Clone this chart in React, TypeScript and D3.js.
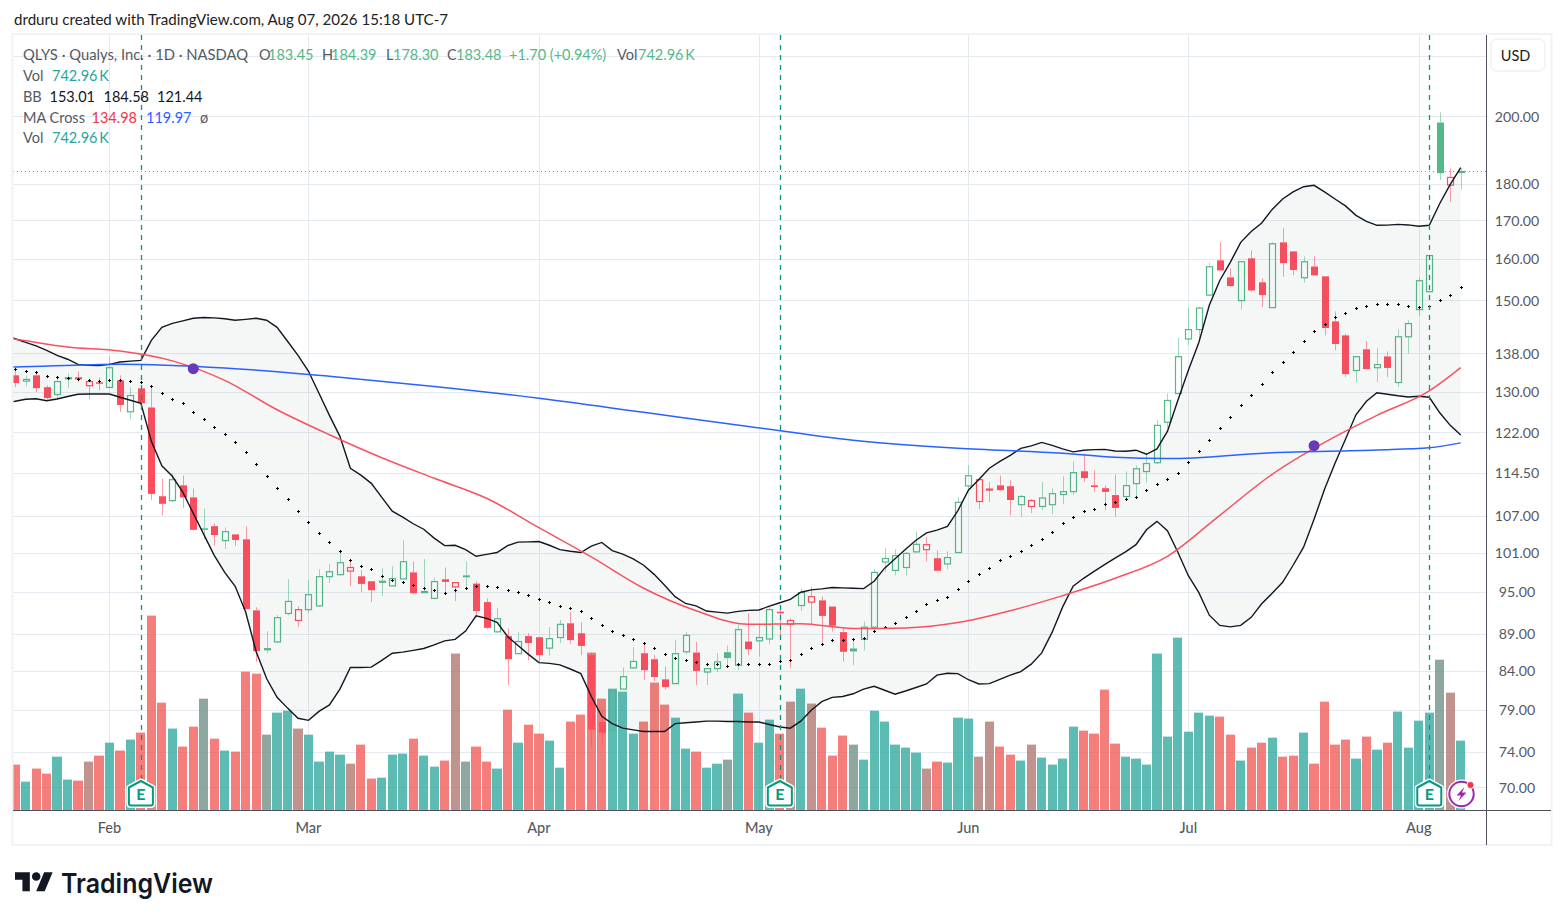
import * as d3 from 'd3';

// QLYS daily candles, one entry per trading day
const opens = [
  133.35, 132.15, 133.35, 130.9, 129.4, 132.7, 132.95, 131.2, 131.9, 130.85,
  132.3, 125.95, 130.65, 126.8, 110.35, 109.6, 112.25, 110.15, 104.95, 105.3,
  102.95, 103.95, 103.15, 92.3, 87.0, 87.85, 91.85, 90.85, 92.4, 92.95,
  97.3, 97.6, 98.15, 97.35, 96.6, 96.5, 95.9, 96.95, 97.95, 95.0,
  94.05, 96.9, 95.75, 97.5, 96.25, 93.5, 89.25, 88.65, 86.25, 88.65,
  88.5, 87.0, 88.45, 90.45, 89.05, 86.05, 77.5, 76.5, 81.6, 84.35,
  86.3, 85.5, 82.85, 82.3, 86.5, 86.4, 83.8, 84.25, 86.45, 84.7,
  87.9, 88.0, 88.25, 92.1, 90.3, 93.0, 93.5, 93.75, 92.85, 89.2,
  86.95, 88.2, 89.9, 99.55, 98.25, 98.7, 101.15, 101.5, 100.15, 99.25,
  101.05, 112.15, 109.45, 111.5, 112.25, 112.1, 108.9, 108.6, 108.6, 108.9,
  110.65, 111.15, 114.75, 112.25, 111.75, 110.55, 110.3, 112.55, 114.7, 116.3,
  123.9, 129.6, 141.15, 143.25, 151.2, 159.65, 155.45, 149.9, 160.15, 154.25,
  148.25, 164.2, 161.9, 155.35, 158.1, 155.7, 145.1, 141.95, 134.35, 138.9,
  134.95, 137.35, 131.85, 141.65, 147.8, 152.0, 198.1, 179.6, 183.45,
];
const highs = [
  134.8, 133.35, 134.05, 131.3, 133.0, 133.7, 134.2, 132.65, 132.9, 137.35,
  133.35, 130.85, 130.95, 131.25, 113.45, 114.35, 114.0, 111.7, 108.25, 105.75,
  105.1, 103.95, 105.3, 92.75, 89.35, 91.6, 96.9, 92.85, 96.75, 98.45,
  99.2, 101.5, 99.85, 98.3, 96.6, 98.6, 98.9, 103.0, 99.65, 100.0,
  97.15, 98.7, 96.45, 99.65, 96.6, 94.05, 92.6, 89.7, 89.2, 89.05,
  88.5, 89.9, 90.9, 92.05, 90.6, 86.4, 79.2, 81.45, 84.4, 87.1,
  87.5, 86.05, 84.55, 88.1, 89.2, 87.85, 84.3, 86.35, 87.35, 90.3,
  91.9, 90.2, 92.85, 92.85, 91.15, 95.5, 95.75, 94.3, 92.85, 89.9,
  88.3, 90.7, 98.45, 101.75, 101.55, 101.15, 104.45, 103.55, 101.4, 101.25,
  110.15, 115.85, 113.3, 112.85, 114.0, 113.15, 110.55, 109.85, 112.85, 111.7,
  113.85, 116.55, 117.95, 114.95, 112.25, 114.2, 114.75, 115.8, 118.25, 124.3,
  129.65, 141.45, 148.25, 148.5, 159.05, 164.25, 157.65, 159.4, 162.15, 155.2,
  164.2, 167.9, 161.9, 160.65, 160.65, 155.7, 147.4, 142.35, 137.35, 140.65,
  139.1, 138.45, 143.3, 145.35, 155.5, 160.9, 201.25, 184.35, 184.39,
];
const lows = [
  130.9, 131.05, 129.9, 128.4, 128.6, 130.7, 131.95, 128.45, 130.25, 130.6,
  125.9, 124.5, 126.6, 109.7, 107.1, 109.35, 108.35, 104.6, 103.15, 102.1,
  101.6, 102.1, 92.4, 85.1, 86.3, 87.7, 91.6, 89.95, 91.9, 92.8,
  96.35, 97.5, 95.85, 95.0, 93.5, 94.4, 95.9, 96.95, 94.65, 94.8,
  93.9, 94.75, 93.65, 95.35, 91.25, 89.6, 89.1, 82.1, 86.15, 85.35,
  85.15, 86.0, 87.7, 87.55, 86.05, 74.5, 74.7, 76.4, 81.6, 84.2,
  82.75, 82.6, 81.55, 82.3, 86.15, 82.1, 82.1, 83.8, 84.7, 84.05,
  86.05, 85.9, 87.55, 88.1, 84.35, 92.2, 90.4, 87.6, 89.3, 85.2,
  84.7, 86.7, 89.15, 98.05, 97.5, 97.5, 101.05, 99.65, 98.15, 98.45,
  101.0, 111.1, 108.15, 109.35, 111.3, 107.1, 106.85, 107.5, 107.95, 107.3,
  109.0, 110.6, 112.85, 111.1, 107.95, 106.85, 109.8, 110.2, 112.7, 116.0,
  122.75, 129.5, 139.75, 140.85, 151.05, 157.15, 153.25, 147.85, 151.95, 148.4,
  148.25, 155.6, 155.95, 154.1, 155.75, 141.95, 138.65, 133.0, 131.9, 134.65,
  131.9, 133.0, 130.95, 137.95, 146.3, 151.85, 181.1, 174.9, 178.3,
];
const closes = [
  131.75, 132.5, 130.7, 128.7, 132.05, 132.85, 132.5, 132.05, 131.75, 134.95,
  127.3, 129.2, 127.65, 110.75, 109.05, 113.25, 110.15, 104.7, 104.85, 103.85,
  104.4, 103.05, 92.5, 86.6, 86.7, 91.25, 93.6, 92.4, 94.6, 97.3,
  98.05, 99.45, 98.7, 96.2, 95.25, 96.6, 97.0, 99.6, 94.8, 95.05,
  96.55, 96.5, 96.4, 97.2, 92.2, 89.8, 91.1, 85.5, 87.9, 87.7,
  86.05, 88.3, 90.3, 88.1, 87.3, 76.6, 76.2, 81.45, 83.2, 85.2,
  84.05, 83.15, 81.85, 86.25, 88.75, 83.95, 84.25, 85.15, 85.65, 89.55,
  86.85, 88.45, 92.4, 92.0, 90.85, 94.9, 94.3, 91.5, 90.1, 86.5,
  86.55, 89.9, 97.95, 100.1, 100.55, 100.9, 102.35, 102.3, 98.2, 100.25,
  109.3, 113.95, 113.25, 111.6, 111.4, 109.7, 110.3, 109.6, 110.05, 110.8,
  111.15, 114.5, 113.55, 111.95, 111.1, 108.35, 112.2, 115.2, 116.15, 123.3,
  128.2, 137.3, 143.25, 148.15, 158.05, 157.15, 153.35, 159.3, 152.3, 151.2,
  163.85, 158.95, 157.25, 159.3, 155.95, 143.6, 140.05, 133.6, 137.3, 134.65,
  135.6, 134.9, 141.65, 144.6, 154.65, 160.85, 183.0, 181.78, 183.48,
];
const closeBeforeChart = 133.6;

// volume in thousands of shares
const volumes = [
  486, 303, 443, 389, 571, 325, 314, 518, 582, 721,
  636, 754, 829, 2083, 1150, 872, 679, 893, 1193, 764,
  636, 625, 1483, 1461, 807, 1043, 1064, 872, 807, 518,
  625, 593, 496, 700, 336, 346, 593, 604, 764, 582,
  464, 529, 1676, 518, 679, 518, 443, 1075, 721, 914,
  818, 743, 453, 947, 1022, 1686, 1193, 1300, 1268, 818,
  947, 1365, 1129, 989, 657, 625, 453, 496, 539, 1247,
  1043, 721, 968, 818, 1161, 1300, 1140, 882, 582, 797,
  700, 539, 1064, 947, 700, 668, 614, 443, 518, 507,
  989, 979, 571, 947, 679, 593, 529, 700, 561, 486,
  550, 893, 850, 818, 1290, 711, 571, 550, 486, 1676,
  786, 1847, 839, 1043, 1011, 1000, 807, 529, 668, 721,
  775, 571, 582, 829, 496, 1161, 700, 754, 550, 786,
  646, 721, 1054, 668, 957, 1043, 1611, 1257, 742.96,
];

const bbBasis = [
  134.75, 134.35, 133.95, 133.3, 132.95, 132.75, 132.6, 132.3, 132.15, 132.45,
  132.3, 132.15, 132.05, 131.05, 129.8, 128.5, 127.6, 126.0, 124.6, 123.05,
  121.65, 120.2, 118.35, 116.15, 113.95, 111.85, 109.95, 107.9, 106.05, 104.25,
  102.8, 101.25, 99.85, 98.95, 98.4, 97.45, 96.8, 96.55, 96.0, 95.65,
  95.35, 94.85, 95.25, 95.6, 95.85, 95.95, 95.75, 95.35, 95.05, 94.6,
  94.0, 93.45, 93.0, 92.7, 92.25, 91.25, 90.25, 89.3, 88.75, 88.2,
  87.65, 86.95, 86.25, 85.6, 85.45, 85.1, 84.8, 84.8, 84.65, 84.85,
  84.8, 84.8, 84.9, 85.2, 85.35, 86.25, 87.05, 87.6, 88.05, 88.15,
  88.2, 88.45, 89.3, 89.95, 90.55, 91.4, 92.25, 93.15, 93.85, 94.3,
  95.5, 96.7, 97.75, 98.7, 99.8, 100.55, 101.35, 102.3, 103.25, 104.4,
  105.75, 106.9, 107.75, 108.25, 108.95, 109.35, 109.8, 110.3, 111.35, 112.4,
  113.45, 114.5, 116.5, 118.5, 120.6, 122.7, 124.85, 127.2, 129.4, 131.45,
  133.95, 136.25, 138.4, 140.8, 143.0, 144.6, 146.1, 147.1, 148.25, 148.75,
  149.2, 149.0, 149.0, 148.75, 148.5, 148.75, 150.1, 151.3, 153.01,
];
const bbUpper = [
  141.2, 140.4, 139.65, 138.67, 137.6, 136.75, 135.65, 135.45, 135.4, 135.65,
  136.15, 136.35, 136.5, 140.85, 143.75, 144.65, 145.2, 145.8, 146.0, 145.9,
  145.7, 145.35, 145.55, 145.8, 145.35, 143.75, 140.65, 137.6, 134.2, 129.65,
  125.25, 121.2, 115.3, 114.05, 112.6, 110.15, 107.8, 106.8, 105.7, 104.8,
  103.35, 102.15, 102.2, 101.5, 100.45, 100.75, 101.05, 102.15, 102.7, 102.75,
  102.8, 102.2, 101.5, 101.25, 101.05, 102.05, 102.65, 101.35, 100.8, 100.05,
  99.05, 97.65, 96.0, 94.3, 93.3, 92.95, 92.2, 92.05, 91.9, 92.15,
  92.3, 92.35, 92.9, 93.4, 93.9, 94.95, 95.3, 95.45, 95.65, 95.6,
  95.55, 95.5, 96.6, 98.6, 100.05, 101.55, 103.0, 104.2, 104.65, 105.25,
  107.9, 111.4, 113.3, 115.3, 116.55, 117.65, 118.95, 119.4, 120.05, 119.5,
  118.85, 118.3, 118.6, 118.7, 118.75, 118.45, 118.4, 118.6, 117.85, 118.85,
  122.15, 128.25, 134.4, 140.4, 148.8, 154.7, 159.15, 164.2, 167.05, 169.25,
  172.9, 175.75, 177.7, 179.15, 179.55, 177.7, 175.75, 173.85, 171.3, 169.7,
  168.65, 168.7, 168.9, 168.75, 168.4, 168.65, 174.5, 179.8, 184.58,
];
const bbLower = [
  128.05, 128.45, 128.55, 128.15, 128.5, 129.0, 129.45, 129.5, 129.5, 129.5,
  128.85, 128.25, 127.65, 120.25, 115.75, 113.85, 111.05, 107.45, 103.95, 100.6,
  97.95, 95.85, 92.05, 86.55, 82.95, 80.55, 79.2, 77.95, 77.7, 78.8,
  79.6, 81.6, 84.4, 84.4, 84.45, 85.35, 86.3, 86.45, 86.7, 86.95,
  87.45, 88.0, 88.2, 89.35, 91.5, 91.15, 90.6, 88.6, 87.35, 86.15,
  85.05, 84.95, 84.75, 84.2, 83.6, 80.65, 78.2, 77.3, 76.75, 76.55,
  76.35, 76.35, 76.35, 77.3, 77.4, 77.5, 77.6, 77.6, 77.55, 77.55,
  77.5, 77.5, 77.2, 76.9, 76.75, 77.6, 78.95, 80.0, 80.55, 80.65,
  81.0, 81.6, 81.95, 81.45, 80.95, 81.35, 81.8, 82.25, 83.4, 83.65,
  83.6, 82.8, 82.25, 82.3, 82.85, 83.4, 83.85, 84.85, 86.35, 89.2,
  92.8, 95.85, 97.05, 98.1, 99.15, 100.15, 101.15, 102.3, 104.7, 106.1,
  104.55, 101.1, 97.45, 94.9, 91.6, 90.15, 89.95, 90.15, 91.3, 93.25,
  94.8, 96.45, 99.05, 101.9, 106.45, 111.55, 116.2, 120.65, 125.35, 128.05,
  129.75, 129.45, 129.15, 128.9, 129.05, 128.85, 125.75, 123.3, 121.44,
];
// the bands and averages run on past the left edge, bar -1 is just off the pane
const bbUpperOffChart = 142.2;
const bbLowerOffChart = 127.7;

// moving averages are smooth, so they were read at these bars only
const ma50Bars = [-1, 0, 5, 10, 15, 20, 25, 30, 35, 40, 45, 50, 55, 60, 65, 70, 75, 80, 85, 90, 95, 100, 105, 110, 115, 120, 125, 130, 135, 138];
const ma50 = [141.4, 141.1, 139.4, 138.5, 136.4, 132.3, 126.35, 121.5, 117.2, 113.5, 110.0, 105.05, 100.35, 95.55, 92.25, 90.3, 90.4, 89.7, 89.8, 90.55, 92.25, 94.45, 97.05, 100.45, 107.1, 114.2, 120.05, 125.25, 130.15, 134.98];
const ma200Bars = [-1, 0, 10, 20, 30, 40, 50, 60, 70, 80, 90, 100, 105, 110, 120, 130, 135, 138];
const ma200 = [135.05, 135.1, 135.7, 134.9, 133.15, 131.05, 128.65, 125.85, 123.1, 120.45, 118.95, 118.05, 117.3, 117.05, 118.15, 118.65, 119.05, 119.97];

const crossBars = [17, 124];
const crossPrices = [134.75, 119.45];
const earningsBars = [12, 73, 135];

const monthBars = [9, 28, 50, 71, 91, 112, 134];
const monthLabels = ['Feb', 'Mar', 'Apr', 'May', 'Jun', 'Jul', 'Aug'];
const priceTicks = [200, 180, 170, 160, 150, 138, 130, 122, 114.5, 107, 101, 95, 89, 84, 79, 74, 70];
const hiddenPriceTick = 220;

const WIDTH = 1564;
const HEIGHT = 920;
const FONT = 'Lato, "Open Sans", sans-serif';
const GREEN = '#53b989';
const RED = '#ff4d5e';
const TEAL = '#26a69a';
const VOL_RED = '#ef5350';
const GRID = '#e4eaf0';
const TEXT = '#555a62';

const pane = { left: 13, right: 1486, top: 35, bottom: 810, outerRight: 1551, outerBottom: 845 };

const x = d3.scaleLinear().domain([0, closes.length - 1]).range([15.2, 1460.7]);
const y = d3.scaleLog().domain([70, 200]).range([787, 116.4]);
const yVol = d3.scaleLinear().domain([0, d3.max(volumes) ?? 1]).range([810, 615.7]);

function prevClose(i: number) {
  return i === 0 ? closeBeforeChart : closes[i - 1];
}

function Candle({ i }: { i: number }) {
  const color = closes[i] >= prevClose(i) ? GREEN : RED;
  const hollow = closes[i] > opens[i];
  const cx = Math.round(x(i)) + 0.5;
  const top = y(Math.max(opens[i], closes[i]));
  const bottom = y(Math.min(opens[i], closes[i]));
  return (
    <g>
      <line x1={cx} x2={cx} y1={y(highs[i])} y2={top} stroke={color} strokeOpacity={0.55} />
      <line x1={cx} x2={cx} y1={bottom} y2={y(lows[i])} stroke={color} strokeOpacity={0.55} />
      {hollow ? (
        <rect x={cx - 3} y={top} width={6} height={Math.max(bottom - top, 1)} fill='none' stroke={color} strokeWidth={1.2} />
      ) : (
        <rect x={cx - 3.5} y={top} width={7} height={Math.max(bottom - top, 1.5)} fill={color} />
      )}
    </g>
  );
}

function EarningsMark({ i }: { i: number }) {
  const cx = x(i);
  const shape = 'M0,6.5 L12,0 L24,6.5 V22.5 Q24,24.5 22,24.5 H2 Q0,24.5 0,22.5 Z';
  return (
    <g transform={`translate(${cx - 12},781)`}>
      <path d={shape} fill='#fff' stroke='#fff' strokeWidth={5} strokeLinejoin='round' />
      <path d={shape} fill='#fff' stroke='#089981' strokeWidth={2} strokeLinejoin='round' />
      <text x={12} y={18.5} textAnchor='middle' fontSize={16} fontWeight={700} fontFamily={FONT} fill='#089981'>
        E
      </text>
    </g>
  );
}

const linePath = d3
  .line<[number, number]>()
  .x((d) => x(d[0]))
  .y((d) => y(d[1]));

const smoothPath = d3
  .line<[number, number]>()
  .x((d) => x(d[0]))
  .y((d) => y(d[1]))
  .curve(d3.curveMonotoneX);

export default function App() {
  const bars = d3.range(closes.length);
  const bandBars = [-1, ...bars];
  const upper = [bbUpperOffChart, ...bbUpper];
  const lower = [bbLowerOffChart, ...bbLower];

  const bandArea = d3
    .area<number>()
    .x((b) => x(b))
    .y0((_, k) => y(lower[k]))
    .y1((_, k) => y(upper[k]));

  const legend = (txt: string, px: number, py: number, fill: string, len?: number) => (
    <text x={px} y={py} fontSize={14.5} fill={fill} fontFamily={FONT} dominantBaseline='central' textLength={len} lengthAdjust='spacingAndGlyphs'>
      {txt}
    </text>
  );

  const lastY = Math.round(y(closes[closes.length - 1])) + 0.5;

  return (
    <svg
      width={WIDTH}
      height={HEIGHT}
      viewBox={`0 0 ${WIDTH} ${HEIGHT}`}
      style={{ position: 'absolute', left: 0, top: 0, background: '#fff' }}
    >
      <defs>
        <clipPath id='pane'>
          <rect x={pane.left} y={pane.top} width={pane.right - pane.left} height={pane.bottom - pane.top} />
        </clipPath>
      </defs>

      <text x={14} y={19} fontSize={15} fill='#222' fontFamily={FONT} dominantBaseline='central' textLength={434} lengthAdjust='spacingAndGlyphs'>
        drduru created with TradingView.com, Aug 07, 2026 15:18 UTC-7
      </text>

      {/* Grid */}
      {[...priceTicks, hiddenPriceTick].map((t) => (
        <line key={t} x1={pane.left} x2={pane.right} y1={Math.round(y(t)) + 0.5} y2={Math.round(y(t)) + 0.5} stroke={GRID} />
      ))}
      {monthBars.map((b) => (
        <line key={b} x1={Math.round(x(b)) + 0.5} x2={Math.round(x(b)) + 0.5} y1={pane.top} y2={pane.bottom} stroke={GRID} />
      ))}

      <g clipPath='url(#pane)'>
        {/* Two volume studies stacked: close against open, then close against previous close */}
        {bars.map((i) => {
          const left = Math.round(x(i) - 4.6);
          const w = Math.round(x(i) + 4.6) - left;
          return (
            <g key={i}>
              <rect x={left} y={yVol(volumes[i])} width={w} height={810 - yVol(volumes[i])} fill={closes[i] >= opens[i] ? TEAL : VOL_RED} fillOpacity={0.5} />
              <rect x={left} y={yVol(volumes[i])} width={w} height={810 - yVol(volumes[i])} fill={closes[i] >= prevClose(i) ? TEAL : VOL_RED} fillOpacity={0.5} />
            </g>
          );
        })}

        {bars.map((i) => (
          <Candle key={i} i={i} />
        ))}

        {/* Bollinger band */}
        <path d={bandArea(bandBars) ?? ''} fill='#4f7a7a' fillOpacity={0.06} />
        <path d={linePath(bandBars.map((b, k) => [b, upper[k]])) ?? ''} fill='none' stroke='#131722' strokeWidth={1.4} />
        <path d={linePath(bandBars.map((b, k) => [b, lower[k]])) ?? ''} fill='none' stroke='#131722' strokeWidth={1.4} />
        {bars.map((i) => (
          <path key={i} d={`M${Math.round(x(i)) - 1},${Math.round(y(bbBasis[i])) + 0.5}h3M${Math.round(x(i)) + 0.5},${Math.round(y(bbBasis[i])) - 1}v3`} stroke='#000' fill='none' />
        ))}

        {/* Moving averages */}
        <path d={smoothPath(ma50Bars.map((b, k) => [b, ma50[k]])) ?? ''} fill='none' stroke='#f7525f' strokeWidth={1.5} />
        <path d={smoothPath(ma200Bars.map((b, k) => [b, ma200[k]])) ?? ''} fill='none' stroke='#2962ff' strokeWidth={1.5} />
        {crossBars.map((b, k) => (
          <circle key={b} cx={x(b)} cy={y(crossPrices[k])} r={5.5} fill='#673ab7' />
        ))}

        {/* Last price */}
        <line x1={pane.left} x2={pane.right} y1={lastY} y2={lastY} stroke={GREEN} strokeDasharray='1 3' />
      </g>

      {/* Earnings */}
      {earningsBars.map((b) => (
        <line key={b} x1={Math.round(x(b)) + 0.5} x2={Math.round(x(b)) + 0.5} y1={pane.top} y2={780} stroke='#089981' strokeWidth={1.3} strokeDasharray='5 5' />
      ))}
      {earningsBars.map((b) => (
        <EarningsMark key={b} i={b} />
      ))}

      {/* Dividend style badge */}
      <g transform='translate(1461.5,794)'>
        <circle r={14.5} fill='#fff' />
        <circle r={12.2} fill='#fff' stroke='#9c27b0' strokeWidth={2} />
        <path d='M3,-7 L-5,1.5 H-0.5 L-3,7 L5,-1.5 H0.5 Z' fill='#9c27b0' />
        <circle cx={9} cy={-9} r={3.6} fill='#f23645' stroke='#fff' strokeWidth={1} />
      </g>

      {/* Frame and axes */}
      <rect x={pane.left - 0.5} y={pane.top - 1} width={pane.outerRight - pane.left + 1} height={pane.outerBottom - pane.top + 1} fill='none' stroke='#f1f2f4' strokeWidth={2} />
      <line x1={pane.left} x2={pane.outerRight} y1={810.5} y2={810.5} stroke='#50535e' />
      <line x1={pane.right + 0.5} x2={pane.right + 0.5} y1={pane.top} y2={pane.outerBottom} stroke='#50535e' />

      {priceTicks.map((t) => (
        <text key={t} x={1517} y={y(t)} textAnchor='middle' fontSize={14.2} fill={TEXT} fontFamily={FONT} dominantBaseline='central'>
          {t.toFixed(2)}
        </text>
      ))}
      {monthBars.map((b, k) => (
        <text key={b} x={x(b)} y={827} textAnchor='middle' fontSize={14.5} fontWeight={500} fill={TEXT} fontFamily={FONT} dominantBaseline='central'>
          {monthLabels[k]}
        </text>
      ))}

      <rect x={1491} y={39} width={54} height={32} rx={6} fill='#fff' stroke='#f0f1f3' strokeWidth={1.5} />
      <text x={1515.5} y={55} textAnchor='middle' fontSize={14.5} fill='#222' fontFamily={FONT} dominantBaseline='central'>
        USD
      </text>

      {/* Legend */}
      {legend('QLYS · Qualys, Inc. · 1D · NASDAQ', 23, 54, TEXT, 225)}
      {legend('O', 259, 54, TEXT)}
      {legend('183.45', 268, 54, GREEN)}
      {legend('H', 322, 54, TEXT)}
      {legend('184.39', 331, 54, GREEN)}
      {legend('L', 386, 54, TEXT)}
      {legend('178.30', 393, 54, GREEN)}
      {legend('C', 447, 54, TEXT)}
      {legend('183.48', 456, 54, GREEN)}
      {legend('+1.70 (+0.94%)', 509, 54, GREEN)}
      {legend('Vol', 617, 54, TEXT)}
      {legend('742.96\u2009K', 638, 54, GREEN)}
      {legend('Vol', 23, 75, TEXT)}
      {legend('742.96\u2009K', 52, 75, TEAL)}
      {legend('BB', 23, 96, TEXT)}
      {legend('153.01', 49.5, 96, '#131722')}
      {legend('184.58', 103.5, 96, '#131722')}
      {legend('121.44', 157, 96, '#131722')}
      {legend('MA Cross', 23, 117, TEXT)}
      {legend('134.98', 91.5, 117, '#f23645')}
      {legend('119.97', 146, 117, '#2962ff')}
      {legend('ø', 200, 117, TEXT)}
      {legend('Vol', 23, 137, TEXT)}
      {legend('742.96\u2009K', 52, 137, TEAL)}

      {/* Logo */}
      <g transform='translate(15,868) scale(1.06)' fill='#131722'>
        <path d='M14 22H7V11H0V4h14v18zM28 22h-8l7.5-18h8L28 22z' />
        <circle cx={20} cy={8} r={4} />
      </g>
      <text x={61} y={883} fontSize={27} fontWeight={600} fill='#131722' fontFamily='Inter, sans-serif' dominantBaseline='central' textLength={152} lengthAdjust='spacingAndGlyphs'>
        TradingView
      </text>
    </svg>
  );
}
